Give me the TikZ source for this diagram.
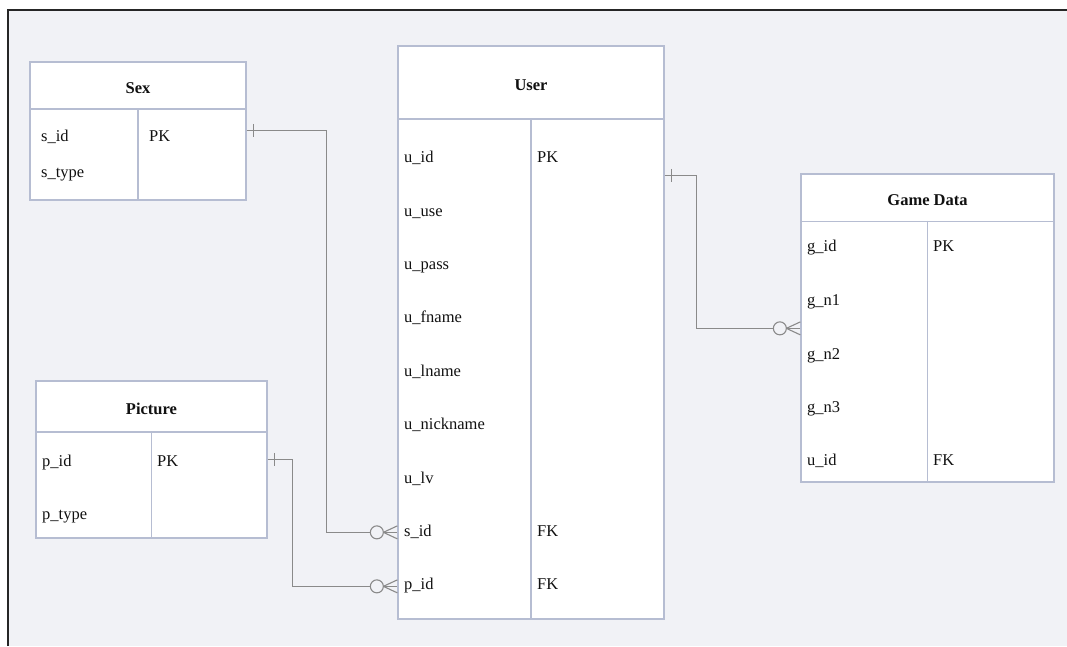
\documentclass[tikz,border=0pt]{standalone}
\usepackage{fontspec}
\setmainfont{Liberation Serif}
\definecolor{paper}{HTML}{F1F2F6}
\definecolor{rim}{HTML}{B6BDD2}
\definecolor{wire}{HTML}{8A8A8A}
\definecolor{ink}{HTML}{111111}

\begin{document}
\begin{tikzpicture}[x=1pt,y=-1pt,
    font=\fontsize{16.5}{19}\selectfont, text=ink,
    tbl/.style={draw=rim,line width=1.3pt,fill=white,inner sep=0pt},
    title/.style={font=\fontsize{16.5}{19}\selectfont\bfseries,text height=16pt,text depth=0pt},
    fld/.style={anchor=base west,inner sep=0pt},
    rel/.style={draw=wire,line width=1.1pt},
    zeromany/.pic={
        \draw[rel,fill=paper] (-20.5,0) circle (6.5);
        \draw[rel] (-14,0) -- (0,-6.5);
        \draw[rel] (-14,0) -- (0,6.5);
    },
    onlyone/.pic={
        \draw[rel] (7,-6.5) -- (7,6.5);
    }]
    \useasboundingbox (0,0) rectangle (1067,646);
    \fill[white] (0,0) rectangle (1067,646);
    \fill[paper] (8,10) rectangle (1067,646);
    \draw[line width=1.5pt,black!85] (8,646) -- (8,10) -- (1067,10);

    %Sex
    \node[tbl,title,minimum width=216,minimum height=47] at (138,85.5) (sexh) {Sex};
    \node[tbl,minimum width=216,minimum height=91] at (138,154.5) (sexb) {};
    \draw[rim,line width=1.3pt] (sexb.north) -- (sexb.south);
    \node[fld] at (41,141) (ssid) {s\_id};
    \node[fld] at (41,177) (sstype) {s\_type};
    \node[fld] at (149,141) (spk) {PK};

    %User
    \node[tbl,title,minimum width=266,minimum height=73] at (531,82.5) (userh) {User};
    \node[tbl,minimum width=266,minimum height=500] at (531,369) (userb) {};
    \draw[rim,line width=1.3pt] (userb.north) -- (userb.south);
    \node[fld] at (404,162) (uid) {u\_id};
    \node[fld] at (404,216) (uuse) {u\_use};
    \node[fld] at (404,269) (upass) {u\_pass};
    \node[fld] at (404,322) (ufname) {u\_fname};
    \node[fld] at (404,376) (ulname) {u\_lname};
    \node[fld] at (404,429) (unick) {u\_nickname};
    \node[fld] at (404,483) (ulv) {u\_lv};
    \node[fld] at (404,536) (usid) {s\_id};
    \node[fld] at (404,589) (upid) {p\_id};
    \node[fld] at (537,162) (upk) {PK};
    \node[fld] at (537,536) (usfk) {FK};
    \node[fld] at (537,589) (upfk) {FK};

    %Game Data
    \node[tbl,title,minimum width=253,minimum height=47.5] at (927.5,197.75) (gameh) {Game Data};
    \node[tbl,minimum width=253,minimum height=260.5] at (927.5,351.75) (gameb) {};
    \draw[rim,line width=1.3pt] (gameb.north) -- (gameb.south);
    \node[fld] at (807,251) (gid) {g\_id};
    \node[fld] at (807,305) (gn1) {g\_n1};
    \node[fld] at (807,359) (gn2) {g\_n2};
    \node[fld] at (807,412) (gn3) {g\_n3};
    \node[fld] at (807,465) (guid) {u\_id};
    \node[fld] at (933,251) (gpk) {PK};
    \node[fld] at (933,465) (gfk) {FK};

    %Picture
    \node[tbl,title,minimum width=231,minimum height=51] at (151.5,406.5) (pich) {Picture};
    \node[tbl,minimum width=231,minimum height=106] at (151.5,485) (picb) {};
    \draw[rim,line width=1.3pt] (picb.north) -- (picb.south);
    \node[fld] at (42,466) (pid) {p\_id};
    \node[fld] at (42,519) (ptype) {p\_type};
    \node[fld] at (157,466) (ppk) {PK};

    %Lines
    \coordinate (sexout) at ([yshift=-22pt]sexb.north east);
    \coordinate (picout) at ([yshift=-28pt]picb.north east);
    \coordinate (userout) at ([yshift=-57pt]userb.north east);
    \coordinate (usersin) at ([yshift=-414pt]userb.north west);
    \coordinate (userpin) at ([yshift=-468pt]userb.north west);
    \coordinate (gamein) at ([yshift=-107.5pt]gameb.north west);

    \draw[rel] (sexout) -- ++(80,0) |- (usersin);
    \draw[rel] (picout) -- ++(25,0) |- (userpin);
    \draw[rel] (userout) -- ++(32,0) |- (gamein);

    \pic at (sexout) {onlyone};
    \pic at (picout) {onlyone};
    \pic at (userout) {onlyone};
    \pic at (usersin) {zeromany};
    \pic at (userpin) {zeromany};
    \pic at (gamein) {zeromany};
\end{tikzpicture}
\end{document}
